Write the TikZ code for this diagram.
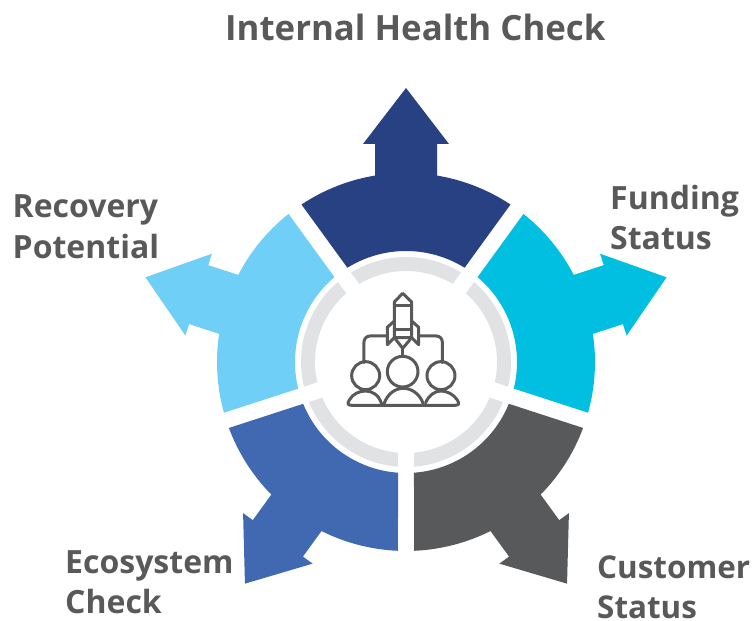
\documentclass[tikz,border=0pt]{standalone}
\usepackage{fontspec}
\setmainfont{Open Sans}[BoldFont={Open Sans Bold}]
\definecolor{navy}{HTML}{284182}
\definecolor{cyanseg}{HTML}{00BFE0}
\definecolor{lightseg}{HTML}{6FCFF6}
\definecolor{blueseg}{HTML}{4169B1}
\definecolor{darkseg}{HTML}{58595B}
\definecolor{ringgrey}{HTML}{E1E2E4}
\definecolor{inktext}{HTML}{595959}
\newcommand{\segpath}{(123.57:189) arc[start angle=123.57,end angle=99.44,radius=189] -- (-31,218) -- (-43,218) -- (0,274) -- (43,218) -- (31,218) -- (80.56:189) arc[start angle=80.56,end angle=56.43,radius=189] -- (58.13:111) arc[start angle=58.13,end angle=121.87,radius=111] -- cycle}
\newcommand{\ringpath}{(121.59:105) arc[start angle=121.59,end angle=58.41,radius=105] -- (59.1:91) arc[start angle=59.1,end angle=120.9,radius=91] -- cycle}
\tikzset{
  label text/.style={anchor=base west,inner sep=0pt,text=inktext,font=\fontsize{32}{32}\selectfont\bfseries},
  title text/.style={label text,font=\fontsize{34.8}{35}\selectfont\bfseries},
  small label/.style={label text,font=\fontsize{31.4}{32}\selectfont\bfseries},
  icon line/.style={draw=inktext,line width=3pt,line join=round,line cap=round},
}
\begin{document}
\begin{tikzpicture}[x=1pt,y=1pt]
\useasboundingbox (0,0) rectangle (753,621);
\begin{scope}[shift={(406,259)}]
  \foreach \r/\c in {0/navy,-72/cyanseg,-144/darkseg,-216/blueseg,-288/lightseg}{
    \fill[\c,rotate=\r] \segpath;
    \fill[ringgrey,rotate=\r] \ringpath;
  }
\end{scope}
\begin{scope}[shift={(280,381)},x=0.3333pt,y=-0.3333pt,icon line]
  % rocket
  \draw (368,160) -- (343,186) -- (343,293) -- (395,293) -- (395,186) -- cycle;
  \draw (345,197) -- (393,197);
  \draw (345,268) -- (393,268);
  \draw (343,243) -- (322,262) -- (322,314) -- (343,293);
  \draw (395,243) -- (416,262) -- (416,314) -- (395,293);
  \draw (347,298) -- (368,325) -- (391,298);
  \draw (368,325) -- (368,350);
  % branches
  \draw (322,288) -- (270,288) arc[start angle=-90,end angle=-180,radius=18] -- (252,368);
  \draw (416,288) -- (469,288) arc[start angle=-90,end angle=0,radius=18] -- (487,368);
  % people
  \draw (257,407) circle[radius=42];
  \draw (368,395) circle[radius=46];
  \draw (483,407) circle[radius=42];
  \draw (215,496) -- (525,496) .. controls (538,496) and (538,490) .. (532,480) .. controls (520,462) and (500,453) .. (483,453) .. controls (465,453) and (447,465) .. (437,488);
  \draw (215,496) .. controls (202,496) and (202,490) .. (208,480) .. controls (218,462) and (238,453) .. (257,453) .. controls (277,453) and (297,465) .. (305,492);
  \draw (312,492) .. controls (322,462) and (345,445) .. (370,445) .. controls (395,445) and (420,462) .. (430,492);
\end{scope}
\node[title text] (title) at (225,580) {Internal Health Check};
\node[label text] (fund1) at (610,411) {Funding};
\node[label text] (fund2) at (610,371) {Status};
\node[label text] (rec1) at (12.5,403) {Recovery};
\node[label text] (rec2) at (12.5,362) {Potential};
\node[label text] (eco1) at (65,47) {Ecosystem};
\node[label text] (eco2) at (65,7) {Check};
\node[small label] (cus1) at (597,42) {Customer};
\node[small label] (cus2) at (597,2.5) {Status};
\end{tikzpicture}
\end{document}
